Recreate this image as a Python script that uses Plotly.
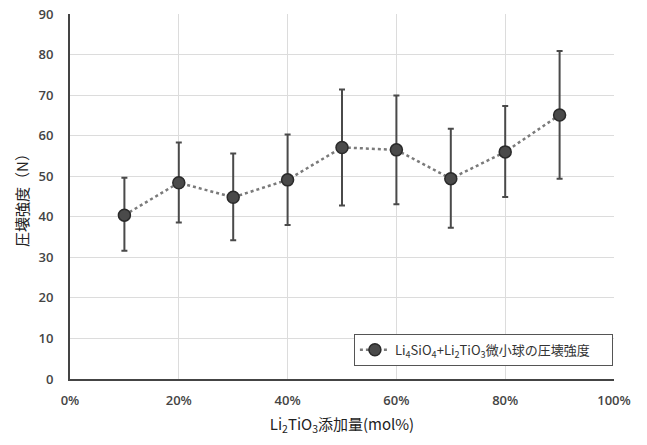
import plotly.graph_objects as go

x_pct = [10, 20, 30, 40, 50, 60, 70, 80, 90]
strength = [40.4, 48.4, 44.8, 49.1, 57.1, 56.5, 49.4, 56.0, 65.1]
err_upper = [49.6, 58.3, 55.6, 60.3, 71.4, 69.9, 61.7, 67.3, 80.9]
err_lower = [31.6, 38.6, 34.2, 38.0, 42.8, 43.1, 37.3, 44.9, 49.4]
x_ticks = [0, 20, 40, 60, 80, 100]
x_ticklabels = ["0%", "20%", "40%", "60%", "80%", "100%"]
y_ticks = [0, 10, 20, 30, 40, 50, 60, 70, 80, 90]

plus = [u - v for u, v in zip(err_upper, strength)]
minus = [v - l for v, l in zip(strength, err_lower)]

font_family = "Noto Sans CJK JP, Noto Sans, sans-serif"
tick_font = dict(size=13, color="#444444", family="Open Sans, sans-serif", weight=600)

fig = go.Figure()
fig.add_trace(go.Scatter(
    x=x_pct, y=strength, mode="lines+markers",
    name="Li<sub>4</sub>SiO<sub>4</sub>+Li<sub>2</sub>TiO<sub>3</sub>微小球の圧壊強度",
    line=dict(color="#7a7a7a", width=2.5, dash="dot"),
    marker=dict(size=12, color="#4a4a4a", line=dict(color="#2a2a2a", width=1.5)),
    error_y=dict(type="data", symmetric=False, array=plus, arrayminus=minus,
                 color="#4a4a4a", thickness=2, width=3),
))

fig.update_layout(
    width=647, height=445,
    margin=dict(l=70, r=33, t=14, b=66, autoexpand=False),
    paper_bgcolor="white", plot_bgcolor="white",
    font=dict(family=font_family, color="#333333", size=12),
    showlegend=True,
    legend=dict(x=0.998, y=0.036, xanchor="right", yanchor="bottom",
                orientation="h", entrywidth=212, entrywidthmode="pixels",
                bordercolor="#555555", borderwidth=1, bgcolor="white",
                font=dict(size=13, color="#333333", family=font_family),
                itemwidth=30),
    xaxis=dict(range=[0, 100], tickvals=x_ticks, ticktext=x_ticklabels,
               showgrid=True, gridcolor="#dcdcdc", gridwidth=1,
               showline=True, linecolor="#444444", linewidth=2,
               zeroline=False, ticks="", ticklabelstandoff=8, automargin=False,
               tickfont=tick_font,
               title=dict(text="Li<sub>2</sub>TiO<sub>3</sub>添加量(mol%)",
                          font=dict(size=15, color="#222222"), standoff=12)),
    yaxis=dict(range=[0, 90], tickvals=y_ticks,
               showgrid=True, gridcolor="#dcdcdc", gridwidth=1,
               showline=True, linecolor="#444444", linewidth=2,
               zeroline=False, ticks="", ticklabelstandoff=12, automargin=False,
               tickfont=tick_font,
               title=dict(text="圧壊強度（N）", font=dict(size=15, color="#222222"),
                          standoff=6)),
)

fig.write_html("out.html")
